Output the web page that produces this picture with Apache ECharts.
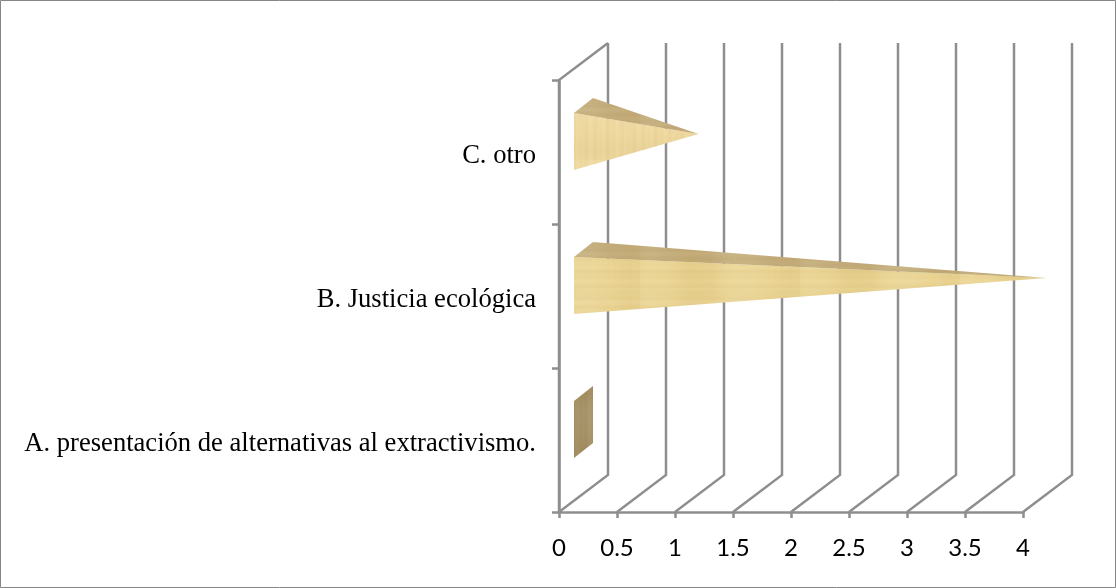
<!DOCTYPE html>
<html><head><meta charset="utf-8">
<style>html,body{margin:0;padding:0;background:#fff}#c{width:1116px;height:588px}</style>
<script src="https://cdn.jsdelivr.net/npm/echarts@6/dist/echarts.min.js"></script>
</head><body><div id="c"></div>
<script>
const categories = ['A. presentación de alternativas al extractivismo.', 'B. Justicia ecológica', 'C. otro'];
const values = [0, 4, 1];
const xTicks = [0, 0.5, 1, 1.5, 2, 2.5, 3, 3.5, 4];

const GRID = '#8e8e8e';
const DEPTH = [49, -37];
const chart = echarts.init(document.getElementById('c'));

// Fixed wood-grain shade sequence (texture only, not data)
const grain = [0.10, -0.06, 0.04, -0.10, 0.14, 0.02, -0.08, 0.08, -0.03, 0.12, -0.12, 0.05, -0.05, 0.09, 0.0, -0.09];

function wood(base, size, along, strength) {
  const cv = document.createElement('canvas');
  cv.width = along === 'v' ? size : 160; cv.height = along === 'v' ? 160 : size;
  const ctx = cv.getContext('2d');
  ctx.fillStyle = base; ctx.fillRect(0, 0, cv.width, cv.height);
  // broad soft blotches
  ctx.filter = 'blur(7px)';
  for (let i = 0; i < 8; i++) {
    const g = grain[(i * 5) % grain.length] * strength * 0.7;
    ctx.fillStyle = g > 0 ? 'rgba(255,250,225,' + g + ')' : 'rgba(170,130,50,' + (-g) + ')';
    if (along === 'v') ctx.fillRect(-4, i * 20, cv.width + 8, 20);
    else ctx.fillRect(i * 20, -4, 20, cv.height + 8);
  }
  // fine grain
  ctx.filter = 'blur(1.4px)';
  const stripe = 3;
  for (let i = -2; i * stripe < size + 6; i++) {
    const g = grain[(i + 16) % grain.length] * strength * 0.75;
    ctx.fillStyle = g > 0 ? 'rgba(255,250,225,' + g + ')' : 'rgba(150,110,40,' + (-g) + ')';
    if (along === 'v') ctx.fillRect(i * stripe, -4, stripe, cv.height + 8);
    else ctx.fillRect(-4, i * stripe, cv.width + 8, stripe);
  }
  return { image: cv, repeat: 'repeat' };
}
const frontC = wood('#f1dba2', 48, 'v', 1.0);
const frontB = wood('#ecd695', 48, 'h', 1.0);
const topFace = wood('#c4ad7b', 48, 'h', 0.9);
const flatFace = wood('#a28d62', 48, 'v', 0.8);

function wallItem(params, api) {
  const v = api.value(0);
  const p = api.coord([v, 0]);
  const rect = params.coordSys;
  const floorY = rect.y + rect.height, topY = rect.y;
  const bx = p[0] + DEPTH[0], by = floorY + DEPTH[1];
  const children = [
    { type: 'polyline', shape: { points: [[p[0], floorY], [bx, by], [bx, topY + DEPTH[1]]] },
      style: { stroke: GRID, lineWidth: 2.5, fill: null } }
  ];
  if (v === 0) {
    children.push({ type: 'polyline', shape: { points: [[p[0], floorY], [p[0], topY], [bx, topY + DEPTH[1]]] },
      style: { stroke: GRID, lineWidth: 2.5, fill: null } });
  }
  return { type: 'group', children };
}

function coneItem(params, api) {
  const v = api.value(0);
  const c = api.coord([v, api.value(1)]);
  const o = api.coord([0, api.value(1)]);
  const y = o[1];
  const lx = o[0] + 15, rx = o[0] + 34;
  const tip = [c[0] + 23.5, y - 18];
  const a = [lx, y - 39], b = [lx, y + 18], d = [rx, y - 54], e = [rx, y + 3];
  if (v === 0) {
    return { type: 'polygon', shape: { points: [a, d, e, b] }, style: { fill: flatFace } };
  }
  const front = v > 2 ? frontB : frontC;
  return { type: 'group', children: [
    { type: 'polygon', shape: { points: [a, b, tip] }, style: { fill: front } },
    { type: 'polygon', shape: { points: [a, d, tip] }, style: { fill: topFace } }
  ] };
}

chart.setOption({
  animation: false,
  backgroundColor: '#fff',
  graphic: [{ type: 'rect', silent: true, shape: { x: 0.5, y: 0.5, width: 1115, height: 587 },
    style: { fill: null, stroke: '#868686', lineWidth: 1 } }],
  grid: { left: 559, top: 80, width: 464, height: 432, containLabel: false },
  xAxis: { type: 'value', min: 0, max: 4, interval: 0.5,
    axisLine: { show: true, onZero: false, lineStyle: { color: GRID, width: 2.5 } }, splitLine: { show: false },
    axisTick: { show: true, length: 6, lineStyle: { color: GRID, width: 2.5 } },
    axisLabel: { color: '#000', fontFamily: 'Lato', fontSize: 24, margin: 24, showMinLabel: true, showMaxLabel: true,
      hideOverlap: false, formatter: v => String(v) } },
  yAxis: { type: 'category', data: categories, boundaryGap: true,
    axisLine: { show: true, lineStyle: { color: GRID, width: 2.5 } },
    splitLine: { show: false },
    axisTick: { show: true, length: 7, alignWithLabel: false, lineStyle: { color: GRID, width: 2.5 } },
    axisLabel: { color: '#000', fontFamily: 'Liberation Serif', fontSize: 26.6, margin: 23, verticalAlign: 'top', lineHeight: 8 } },
  series: [
    { type: 'custom', coordinateSystem: 'cartesian2d', renderItem: wallItem, silent: true, z: 1,
      encode: { x: 0 }, data: xTicks.map(t => [t]) },
    { type: 'custom', coordinateSystem: 'cartesian2d', renderItem: coneItem, silent: true, z: 3,
      encode: { x: 0, y: 1 }, data: values.map((v, i) => [v, i]) }
  ]
});
</script></body></html>
